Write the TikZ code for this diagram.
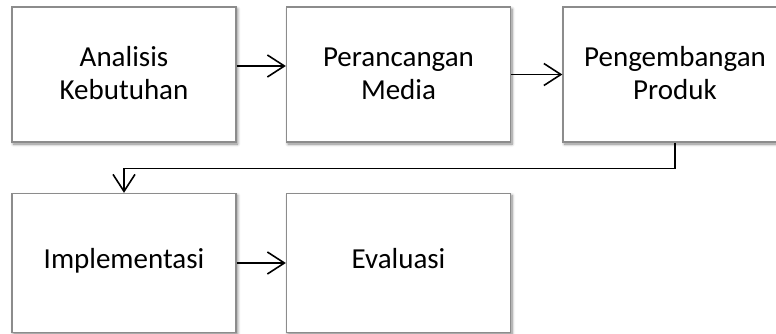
\documentclass[tikz,border=0pt]{standalone}
\usepackage{fontspec}
\setmainfont{Carlito}
\usetikzlibrary{arrows.meta,shadows.blur}
\definecolor{boxborder}{RGB}{140,140,140}
\newcommand{\toprow}[1]{\raisebox{0pt}[17pt][0pt]{#1}}
\newcommand{\lowrow}[1]{\raisebox{0pt}[16pt][6pt]{#1}}
\begin{document}
\begin{tikzpicture}[x=1pt,y=-1pt,
  stepbox/.style={draw=boxborder, line width=1.3pt, fill=white, align=center,
    font=\fontsize{29}{33}\selectfont, text=black, minimum width=224pt,
    blur shadow={shadow xshift=1.5pt, shadow yshift=-2pt, shadow blur radius=3pt, shadow blur steps=6, shadow opacity=50}},
  conn/.style={draw=black, line width=1.6pt, -{Straight Barb[length=17pt,width=22pt,line width=1.6pt]}}]
\useasboundingbox (0,0) rectangle (776,334);
\node[stepbox, minimum height=135pt] (b1) at (124,74.5) {\toprow{Analisis}\\Kebutuhan};
\node[stepbox, minimum height=135pt] (b2) at (398.5,74.5) {\toprow{Perancangan}\\Media};
\node[stepbox, minimum height=135pt] (b3) at (675,74.5) {\toprow{Pengembangan}\\Produk};
\node[stepbox, minimum height=139pt] (b4) at (124,263) {\lowrow{Implementasi}};
\node[stepbox, minimum height=139pt] (b5) at (398.5,263) {\lowrow{Evaluasi}};
\draw[conn] ([yshift=8.5pt]b1.east) -- ([yshift=8.5pt]b2.west);
\draw[conn] (b2.east) -- (b3.west);
\draw[conn] (b3.south) -- ++(0,26) -| (b4.north);
\draw[conn] (b4.east) -- (b5.west);
\end{tikzpicture}
\end{document}
